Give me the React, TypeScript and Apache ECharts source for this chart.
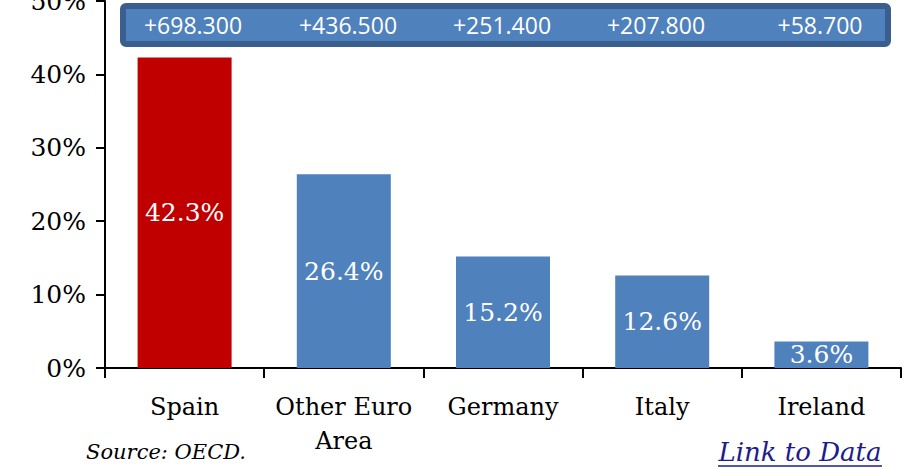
import React, { useEffect, useRef } from "react";
import * as echarts from "echarts";

const categories = ["Spain", "Other Euro\nArea", "Germany", "Italy", "Ireland"];
const shares = [42.3, 26.4, 15.2, 12.6, 3.6];
const barColors = ["#c00000", "#4f81bd", "#4f81bd", "#4f81bd", "#4f81bd"];
const boxLabels = ["+698.300", "+436.500", "+251.400", "+207.800", "+58.700"];
const boxLabelX = [193, 348, 502, 656, 820];
const yTicks = [0, 10, 20, 30, 40, 50];

const SERIF = "'DejaVu Serif', serif";
const SANS = "'Open Sans', 'Liberation Sans', sans-serif";

export default function App() {
  const ref = useRef<HTMLDivElement>(null);
  useEffect(() => {
    if (!ref.current) return;
    document.body.style.margin = "0";
    const chart = echarts.init(ref.current, null, { renderer: "svg" });
    const graphics: any[] = [
      {
        type: "rect",
        shape: { x: 123, y: 6, width: 765, height: 38, r: 3 },
        style: { fill: "#4f81bd", stroke: "#3a5f8e", lineWidth: 6 },
        z: 10,
      },
      ...boxLabels.map((t, i) => ({
        type: "text",
        x: boxLabelX[i],
        y: 25,
        style: {
          text: t,
          fill: "#ffffff",
          font: `23px ${SANS}`,
          textAlign: "center",
          textVerticalAlign: "middle",
        },
        z: 11,
      })),
      {
        type: "text",
        x: 166,
        y: 452,
        style: {
          text: "Source: OECD.",
          fill: "#000000",
          font: `italic 21px ${SERIF}`,
          textAlign: "center",
          textVerticalAlign: "middle",
        },
      },
      {
        type: "text",
        x: 800,
        y: 452,
        style: {
          text: "Link to Data",
          fill: "#1c1c8c",
          font: `italic 26px ${SERIF}`,
          textAlign: "center",
          textVerticalAlign: "middle",
        },
      },
      {
        type: "line",
        shape: { x1: 718, y1: 466, x2: 882, y2: 466 },
        style: { stroke: "#1c1c8c", lineWidth: 1.5 },
      },
    ];
    chart.setOption({
      animation: false,
      grid: {
        left: 105,
        right: 5,
        top: 1,
        bottom: 101,
        containLabel: false,
        outerBoundsMode: "none",
      },
      xAxis: {
        type: "category",
        data: categories,
        axisLine: { lineStyle: { color: "#000", width: 2 } },
        axisTick: { show: true, length: 10, lineStyle: { color: "#000", width: 2 } },
        axisLabel: {
          color: "#000",
          fontFamily: SERIF,
          fontSize: 24,
          lineHeight: 34,
          margin: 22,
          interval: 0,
        },
      },
      yAxis: {
        type: "value",
        min: 0,
        max: 50,
        interval: 10,
        axisLine: { show: true, lineStyle: { color: "#000", width: 2 } },
        axisTick: { show: true, length: 9, lineStyle: { color: "#000", width: 2 } },
        splitLine: { show: false },
        axisLabel: {
          color: "#000",
          fontFamily: SERIF,
          fontSize: 25,
          margin: 19,
          formatter: (v: number) => (yTicks.includes(v) ? `${v}%` : ""),
        },
      },
      series: [
        {
          type: "bar",
          data: shares.map((v, i) => ({ value: v, itemStyle: { color: barColors[i] } })),
          barWidth: 94,
          label: {
            show: true,
            position: "inside",
            color: "#fff",
            fontFamily: SERIF,
            fontSize: 25,
            formatter: (p: any) => `${Number(p.value).toFixed(1)}%`,
          },
        },
      ],
      graphic: graphics,
    });
    return () => chart.dispose();
  }, []);
  return (
    <div
      ref={ref}
      style={{ position: "absolute", left: 0, top: 0, width: 906, height: 469 }}
    />
  );
}
